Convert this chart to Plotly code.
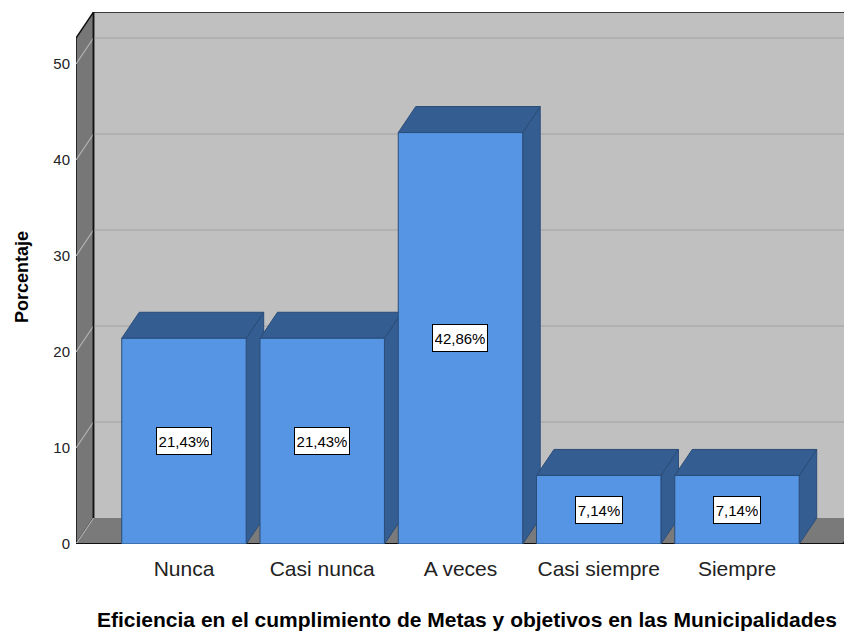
import plotly.graph_objects as go

categories = ["Nunca", "Casi nunca", "A veces", "Casi siempre", "Siempre"]
percentages = [21.43, 21.43, 42.86, 7.14, 7.14]
value_labels = ["21,43%", "21,43%", "42,86%", "7,14%", "7,14%"]
y_ticks = [0, 10, 20, 30, 40, 50]

FONT = "Liberation Sans, Arial, sans-serif"

# 3D geometry (data units)
BAR_W = 0.9
DX = 0.1266      # depth offset along x
DY = 2.71        # depth offset along y
X0 = -0.781      # front left edge of the wall
XMAX = 4.832
XR = 4.767       # front right edge of floor
YTOP = 52.7      # front top of the walls
YMAX = 55.42

WALL_BACK = "#c0c0c0"
WALL_SIDE = "#777777"
FLOOR = "#7a7a7a"
GRID_BACK = "#acacac"
GRID_SIDE = "#b4b4b4"
BAR_FRONT = "#5595e3"
BAR_DARK = "#345e92"
BAR_EDGE = "#2a4c78"

shapes = []

def poly(pts, fill, line_color, line_w):
    path = "M " + " L ".join(f"{x},{y}" for x, y in pts) + " Z"
    return dict(type="path", xref="x", yref="y", path=path, fillcolor=fill,
                line=dict(color=line_color, width=line_w), layer="below")

# back wall
shapes.append(poly([(X0 + DX, DY), (XMAX + 0.2, DY), (XMAX + 0.2, YTOP + DY), (X0 + DX, YTOP + DY)],
                   WALL_BACK, WALL_BACK, 0))
# left wall
shapes.append(poly([(X0, 0), (X0, YTOP), (X0 + DX, YTOP + DY), (X0 + DX, DY)],
                   WALL_SIDE, "#111111", 1.5))
# floor
shapes.append(poly([(X0, 0), (XR, 0), (XR + DX, DY), (X0 + DX, DY)],
                   FLOOR, FLOOR, 0))
# gridlines
for v in y_ticks[1:]:
    shapes.append(dict(type="line", xref="x", yref="y", x0=X0 + DX, x1=XMAX + 0.2,
                       y0=v + DY, y1=v + DY, line=dict(color=GRID_BACK, width=1.5), layer="below"))
for v in y_ticks:
    shapes.append(dict(type="line", xref="x", yref="y", x0=X0, x1=X0 + DX,
                       y0=v, y1=v + DY, line=dict(color=GRID_SIDE, width=1.2), layer="below"))
# wall edges
shapes.append(dict(type="line", xref="x", yref="y", x0=X0 + DX, x1=XMAX + 0.2,
                   y0=YTOP + DY, y1=YTOP + DY, line=dict(color="#111111", width=1.5), layer="below"))
shapes.append(dict(type="line", xref="x", yref="y", x0=X0 + DX, x1=X0 + DX,
                   y0=DY, y1=YTOP + DY, line=dict(color="#111111", width=1.5), layer="below"))
shapes.append(dict(type="line", xref="x", yref="y", x0=X0, x1=XR,
                   y0=0, y1=0, line=dict(color="#111111", width=2), layer="below"))
shapes.append(dict(type="line", xref="x", yref="y", x0=XR, x1=XR + DX,
                   y0=0, y1=DY, line=dict(color="#111111", width=1.5), layer="below"))

# bar top and side faces
for i, v in enumerate(percentages):
    L = i - BAR_W / 2
    R = i + BAR_W / 2
    shapes.append(poly([(R, 0), (R, v), (R + DX, v + DY), (R + DX, DY)], BAR_DARK, BAR_EDGE, 1))
    shapes.append(poly([(L, v), (R, v), (R + DX, v + DY), (L + DX, v + DY)], BAR_DARK, BAR_EDGE, 1))

fig = go.Figure()
fig.add_trace(go.Bar(x=list(range(len(categories))), y=percentages, width=BAR_W,
                     marker=dict(color=BAR_FRONT, line=dict(color=BAR_EDGE, width=1)),
                     hoverinfo="skip"))

annotations = []
for i, (v, t) in enumerate(zip(percentages, value_labels)):
    annotations.append(dict(x=i, y=v / 2, xref="x", yref="y", text=t, showarrow=False,
                            font=dict(family=FONT, size=15, color="#000000"),
                            width=50 if len(t) > 5 else 42, height=22,
                            bgcolor="#ffffff", bordercolor="#000000", borderwidth=1, borderpad=2))
annotations.append(dict(x=0.504, y=-0.141, xref="paper", yref="paper", yanchor="middle",
                        xanchor="center",
                        text="<b>Eficiencia en el cumplimiento de Metas y objetivos en las Municipalidades</b>",
                        showarrow=False, font=dict(family=FONT, size=21, color="#000000")))
annotations.append(dict(x=-0.0696, y=0.502, xref="paper", yref="paper", textangle=-90,
                        xanchor="center", yanchor="middle",
                        text="<b>Porcentaje</b>", showarrow=False,
                        font=dict(family=FONT, size=18, color="#000000")))

fig.update_layout(
    width=844, height=624,
    margin=dict(l=68, r=0, t=4, b=88, autoexpand=False),
    paper_bgcolor="#ffffff", plot_bgcolor="#ffffff",
    showlegend=False, shapes=shapes, annotations=annotations,
    xaxis=dict(range=[X0, XMAX], tickvals=list(range(len(categories))), ticktext=categories,
               showgrid=False, zeroline=False, showline=False,
               ticks="outside", ticklen=6, tickcolor="rgba(0,0,0,0)",
               tickfont=dict(family=FONT, size=21, color="#222222"), fixedrange=True),
    yaxis=dict(range=[0, YMAX], tickvals=y_ticks, ticktext=[str(v) for v in y_ticks],
               showgrid=False, zeroline=False, showline=False,
               ticks="outside", ticklen=2, tickcolor="rgba(0,0,0,0)",
               tickfont=dict(family=FONT, size=15, color="#222222"), fixedrange=True),
)

fig.write_html("out.html", config={"displayModeBar": False})
